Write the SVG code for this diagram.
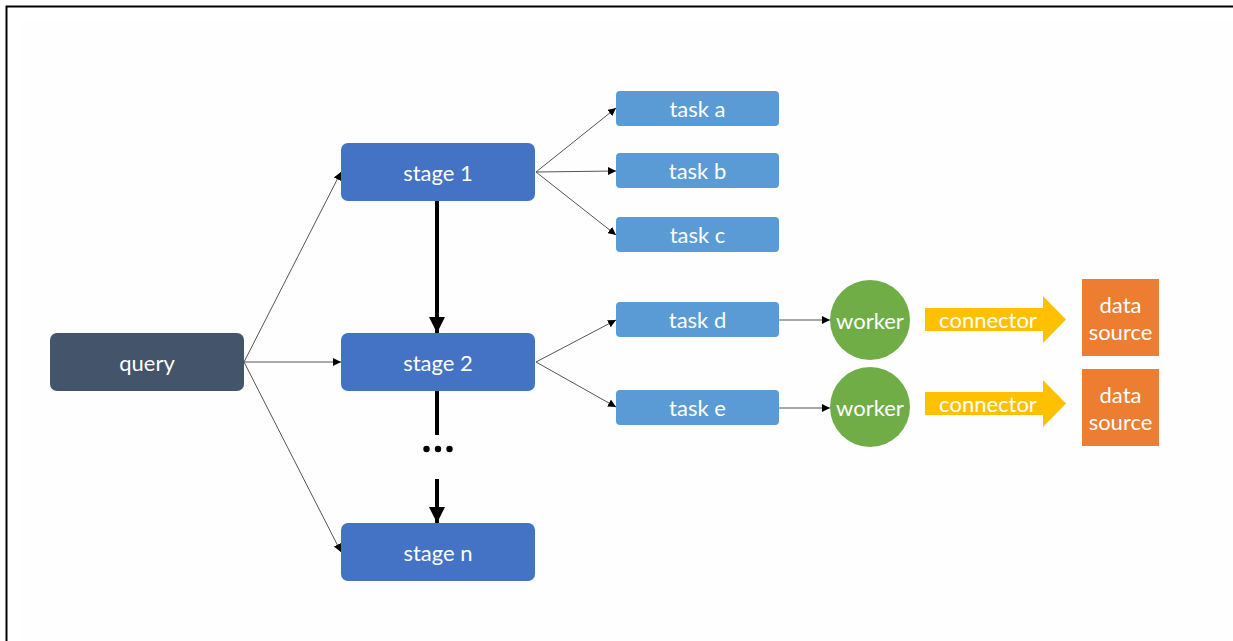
<svg xmlns="http://www.w3.org/2000/svg" width="1233" height="641" viewBox="0 0 1233 641">
  <defs>
    <marker id="tip" viewBox="0 0 10 10" refX="10" refY="5" markerWidth="8" markerHeight="8" markerUnits="userSpaceOnUse" orient="auto">
      <path d="M0,0 L10,5 L0,10 z" fill="#000"/>
    </marker>
    <marker id="tipBold" viewBox="0 0 10 10" refX="10" refY="5" markerWidth="4" markerHeight="4" orient="auto">
      <path d="M0,0 L10,5 L0,10 z" fill="#000"/>
    </marker>
  </defs>
  <style>
    .lbl { font-family: Lato, "Open Sans", "Liberation Sans", sans-serif; font-size: 22px; fill: #fff; text-anchor: middle; dominant-baseline: central; }
    .query { fill: #44546a; }
    .stage { fill: #4472c4; }
    .task { fill: #5b9bd5; }
    .worker { fill: #70ad47; }
    .conn { fill: #ffc000; }
    .src { fill: #ed7d31; }
    .thin { stroke: #555; stroke-width: 1; fill: none; marker-end: url(#tip); }
    .bold { stroke: #000; stroke-width: 4; fill: none; }
  </style>

  <!-- page -->
  <rect x="0" y="0" width="1233" height="641" fill="#fff"/>
  <rect x="20" y="21" width="1213" height="620" fill="#fefefe"/>
  <path d="M6.5,641 V6.5 H1233" fill="none" stroke="#000" stroke-width="2"/>

  <!-- connectors -->
  <g id="connectors">
    <line class="thin" x1="244" y1="362" x2="341" y2="172"/>
    <line class="thin" x1="244" y1="362" x2="341" y2="362"/>
    <line class="thin" x1="244" y1="362" x2="341" y2="552"/>
    <line class="thin" x1="536" y1="172" x2="616" y2="108"/>
    <line class="thin" x1="536" y1="172" x2="616" y2="171"/>
    <line class="thin" x1="536" y1="172" x2="616" y2="235"/>
    <line class="thin" x1="536" y1="362" x2="616" y2="320"/>
    <line class="thin" x1="536" y1="362" x2="616" y2="407"/>
    <line class="thin" x1="779" y1="320" x2="830" y2="320"/>
    <line class="thin" x1="779" y1="408" x2="830" y2="408"/>
    <line class="bold" x1="437" y1="201" x2="437" y2="333" marker-end="url(#tipBold)"/>
    <line class="bold" x1="437" y1="391" x2="437" y2="435"/>
    <line class="bold" x1="437" y1="479" x2="437" y2="523" marker-end="url(#tipBold)"/>
    <g id="ellipsis" fill="#000">
      <circle cx="426.5" cy="449" r="3.2"/>
      <circle cx="438" cy="449" r="3.2"/>
      <circle cx="449.5" cy="449" r="3.2"/>
    </g>
  </g>

  <!-- nodes -->
  <g id="query"><rect class="query" x="50" y="333" width="194" height="58" rx="7"/><text class="lbl" x="147" y="362">query</text></g>

  <g id="stage1"><rect class="stage" x="341" y="143" width="194" height="58" rx="7"/><text class="lbl" x="438" y="172">stage 1</text></g>
  <g id="stage2"><rect class="stage" x="341" y="333" width="194" height="58" rx="7"/><text class="lbl" x="438" y="362">stage 2</text></g>
  <g id="stageN"><rect class="stage" x="341" y="523" width="194" height="58" rx="7"/><text class="lbl" x="438" y="552">stage n</text></g>

  <g id="taskA"><rect class="task" x="616" y="91" width="163" height="35" rx="4"/><text class="lbl" x="697.5" y="108.5">task a</text></g>
  <g id="taskB"><rect class="task" x="616" y="153" width="163" height="35" rx="4"/><text class="lbl" x="697.5" y="170.5">task b</text></g>
  <g id="taskC"><rect class="task" x="616" y="217" width="163" height="35" rx="4"/><text class="lbl" x="697.5" y="234.5">task c</text></g>
  <g id="taskD"><rect class="task" x="616" y="302" width="163" height="35" rx="4"/><text class="lbl" x="697.5" y="319.5">task d</text></g>
  <g id="taskE"><rect class="task" x="616" y="390" width="163" height="35" rx="4"/><text class="lbl" x="697.5" y="407.5">task e</text></g>

  <g id="worker1"><circle class="worker" cx="870" cy="320" r="40"/><text class="lbl" x="870" y="320">worker</text></g>
  <g id="worker2"><circle class="worker" cx="870" cy="407" r="40"/><text class="lbl" x="870" y="407">worker</text></g>

  <g id="connector1"><path class="conn" d="M925,308 H1043 V296 L1066,319.5 L1043,343 V331 H925 z"/><text class="lbl" x="988" y="319">connector</text></g>
  <g id="connector2"><path class="conn" d="M925,392 H1043 V380 L1066,403.5 L1043,427 V415 H925 z"/><text class="lbl" x="988" y="403">connector</text></g>

  <g id="source1"><rect class="src" x="1082" y="279" width="77" height="77"/><text class="lbl" x="1120.5" y="304">data</text><text class="lbl" x="1120.5" y="331">source</text></g>
  <g id="source2"><rect class="src" x="1082" y="369" width="77" height="77"/><text class="lbl" x="1120.5" y="394">data</text><text class="lbl" x="1120.5" y="421">source</text></g>
</svg>
